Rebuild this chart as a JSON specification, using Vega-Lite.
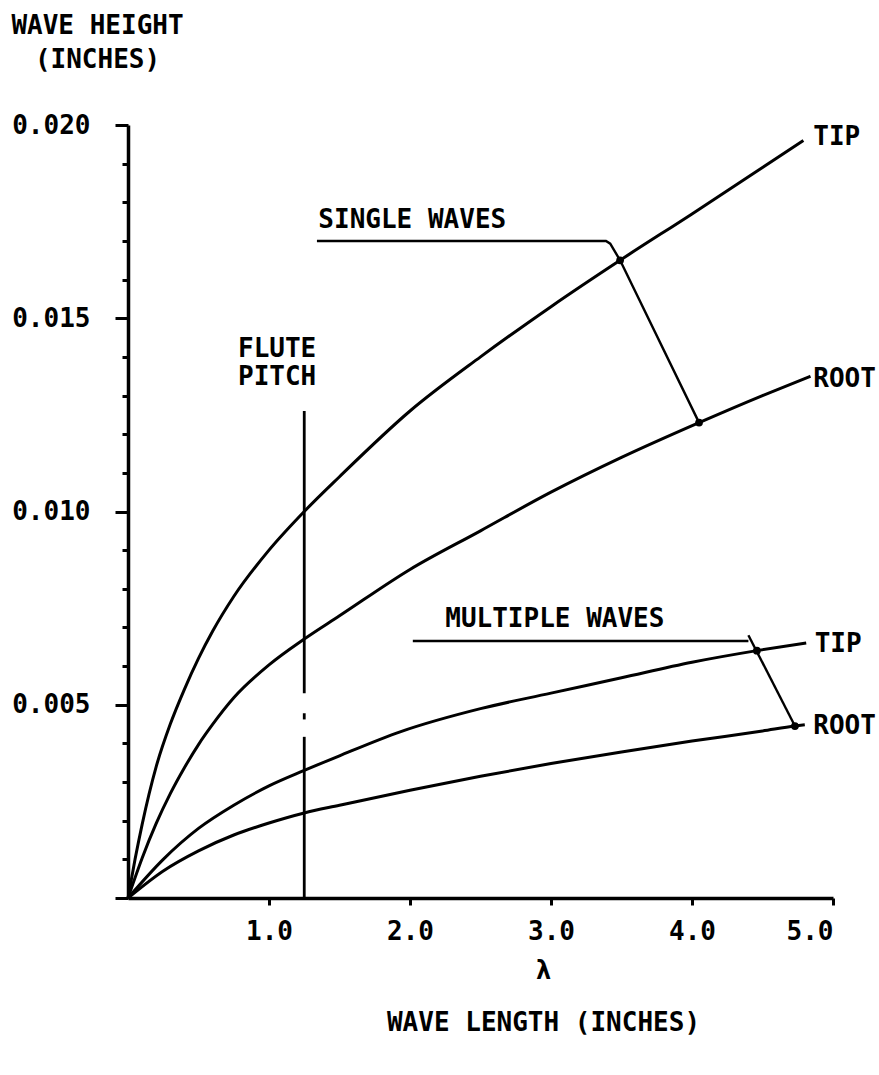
{
  "$schema": "https://vega.github.io/schema/vega-lite/v6.json",
  "width": 705,
  "height": 773,
  "autosize": "none",
  "padding": {"left": 128, "top": 125, "right": 46, "bottom": 177},
  "background": "white",
  "config": {
    "view": {"stroke": null},
    "font": "DejaVu Sans Mono",
    "axis": {"grid": false, "domainColor": "black", "tickColor": "black", "labelColor": "black", "titleColor": "black"}
  },
  "datasets": {
    "curves": [
      {"series": "single tip", "wl": 0, "h": 0},
      {"series": "single tip", "wl": 0.05, "h": 0.001},
      {"series": "single tip", "wl": 0.1, "h": 0.0019},
      {"series": "single tip", "wl": 0.2, "h": 0.0034},
      {"series": "single tip", "wl": 0.3, "h": 0.0045},
      {"series": "single tip", "wl": 0.4, "h": 0.0054},
      {"series": "single tip", "wl": 0.5, "h": 0.0062},
      {"series": "single tip", "wl": 0.6, "h": 0.0069},
      {"series": "single tip", "wl": 0.75, "h": 0.0078},
      {"series": "single tip", "wl": 1.0, "h": 0.009},
      {"series": "single tip", "wl": 1.25, "h": 0.01},
      {"series": "single tip", "wl": 1.5, "h": 0.0109},
      {"series": "single tip", "wl": 2.0, "h": 0.0126},
      {"series": "single tip", "wl": 2.5, "h": 0.014},
      {"series": "single tip", "wl": 3.0, "h": 0.0153},
      {"series": "single tip", "wl": 3.49, "h": 0.0165},
      {"series": "single tip", "wl": 4.0, "h": 0.0177},
      {"series": "single tip", "wl": 4.5, "h": 0.0189},
      {"series": "single tip", "wl": 4.79, "h": 0.0196},
      {"series": "single root", "wl": 0, "h": 0},
      {"series": "single root", "wl": 0.1, "h": 0.00103},
      {"series": "single root", "wl": 0.2, "h": 0.00193},
      {"series": "single root", "wl": 0.3, "h": 0.0027},
      {"series": "single root", "wl": 0.4, "h": 0.00337},
      {"series": "single root", "wl": 0.5, "h": 0.00397},
      {"series": "single root", "wl": 0.6, "h": 0.00449},
      {"series": "single root", "wl": 0.75, "h": 0.00518},
      {"series": "single root", "wl": 1.0, "h": 0.00603},
      {"series": "single root", "wl": 1.25, "h": 0.0067},
      {"series": "single root", "wl": 1.5, "h": 0.0073},
      {"series": "single root", "wl": 2.0, "h": 0.0085},
      {"series": "single root", "wl": 2.5, "h": 0.0095},
      {"series": "single root", "wl": 3.0, "h": 0.0105},
      {"series": "single root", "wl": 3.5, "h": 0.0114},
      {"series": "single root", "wl": 4.05, "h": 0.0123},
      {"series": "single root", "wl": 4.5, "h": 0.013},
      {"series": "single root", "wl": 4.84, "h": 0.0135},
      {"series": "multiple tip", "wl": 0, "h": 0},
      {"series": "multiple tip", "wl": 0.25, "h": 0.001},
      {"series": "multiple tip", "wl": 0.5, "h": 0.0018},
      {"series": "multiple tip", "wl": 0.75, "h": 0.0024},
      {"series": "multiple tip", "wl": 1.0, "h": 0.0029},
      {"series": "multiple tip", "wl": 1.25, "h": 0.0033},
      {"series": "multiple tip", "wl": 1.5, "h": 0.00368},
      {"series": "multiple tip", "wl": 1.93, "h": 0.0043},
      {"series": "multiple tip", "wl": 2.5, "h": 0.0049},
      {"series": "multiple tip", "wl": 3.0, "h": 0.0053},
      {"series": "multiple tip", "wl": 3.5, "h": 0.0057},
      {"series": "multiple tip", "wl": 4.0, "h": 0.0061},
      {"series": "multiple tip", "wl": 4.46, "h": 0.0064},
      {"series": "multiple tip", "wl": 4.81, "h": 0.0066},
      {"series": "multiple root", "wl": 0, "h": 0},
      {"series": "multiple root", "wl": 0.25, "h": 0.0007},
      {"series": "multiple root", "wl": 0.5, "h": 0.00122},
      {"series": "multiple root", "wl": 0.75, "h": 0.00163},
      {"series": "multiple root", "wl": 1.0, "h": 0.00194},
      {"series": "multiple root", "wl": 1.25, "h": 0.0022},
      {"series": "multiple root", "wl": 1.5, "h": 0.0024},
      {"series": "multiple root", "wl": 2.0, "h": 0.00279},
      {"series": "multiple root", "wl": 2.5, "h": 0.00315},
      {"series": "multiple root", "wl": 3.0, "h": 0.00348},
      {"series": "multiple root", "wl": 3.5, "h": 0.00378},
      {"series": "multiple root", "wl": 4.0, "h": 0.00406},
      {"series": "multiple root", "wl": 4.5, "h": 0.00432},
      {"series": "multiple root", "wl": 4.73, "h": 0.00445},
      {"series": "multiple root", "wl": 4.8, "h": 0.00448}
    ],
    "flute": [
      {"wl": 1.25, "top": 0.0126, "bottom": 0.0053},
      {"wl": 1.25, "top": 0.00478, "bottom": 0.00462},
      {"wl": 1.25, "top": 0.00417, "bottom": 0}
    ],
    "leaders": [
      {"leader": "single", "seq": 1, "wl": 1.34, "h": 0.017},
      {"leader": "single", "seq": 2, "wl": 3.39, "h": 0.017},
      {"leader": "single", "seq": 3, "wl": 3.42, "h": 0.01693},
      {"leader": "single", "seq": 4, "wl": 3.49, "h": 0.0165},
      {"leader": "single", "seq": 5, "wl": 4.05, "h": 0.0123},
      {"leader": "multiple", "seq": 1, "wl": 2.02, "h": 0.00665},
      {"leader": "multiple", "seq": 2, "wl": 4.4, "h": 0.00665},
      {"leader": "multiple link", "seq": 1, "wl": 4.4, "h": 0.0068},
      {"leader": "multiple link", "seq": 2, "wl": 4.73, "h": 0.00445}
    ],
    "dots": [
      {"wl": 3.49, "h": 0.0165},
      {"wl": 4.05, "h": 0.0123},
      {"wl": 4.46, "h": 0.0064},
      {"wl": 4.73, "h": 0.00445}
    ],
    "labels": [
      {"wl": 1.35, "h": 0.01733, "text": "SINGLE WAVES"},
      {"wl": 0.78, "h": 0.014, "text": "FLUTE"},
      {"wl": 0.78, "h": 0.01327, "text": "PITCH"},
      {"wl": 2.25, "h": 0.007, "text": "MULTIPLE WAVES"},
      {"wl": 4.86, "h": 0.01948, "text": "TIP"},
      {"wl": 4.86, "h": 0.01322, "text": "ROOT"},
      {"wl": 4.87, "h": 0.00636, "text": "TIP"},
      {"wl": 4.86, "h": 0.00424, "text": "ROOT"}
    ]
  },
  "layer": [
    {
      "data": {"name": "curves"},
      "mark": {"type": "line", "interpolate": "monotone", "color": "black", "strokeWidth": 3},
      "encoding": {
        "x": {
          "field": "wl", "type": "quantitative",
          "scale": {"domain": [0, 5], "nice": false, "zero": false},
          "axis": {
            "values": [1, 2, 3, 4, 5],
            "format": ".1f",
            "domainWidth": 3.5,
            "tickSize": 7,
            "tickWidth": 3,
            "labelFontSize": 26,
            "labelFont": "DejaVu Sans Mono",
            "labelFontWeight": "bold",
            "labelPadding": 13,
            "labelOverlap": false,
            "title": ["λ", "WAVE LENGTH (INCHES)"],
            "titleFont": "DejaVu Sans Mono",
            "titleFontSize": 26,
            "titleFontWeight": "bold",
            "titleLineHeight": 52,
            "titleAnchor": "start",
            "titleAlign": "center",
            "titleBaseline": "alphabetic",
            "titleX": 415,
            "titleY": 80
          }
        },
        "y": {
          "field": "h", "type": "quantitative",
          "scale": {"domain": [0, 0.02], "nice": false, "zero": false},
          "axis": {
            "values": [0, 0.001, 0.002, 0.003, 0.004, 0.005, 0.006, 0.007, 0.008, 0.009, 0.01, 0.011, 0.012, 0.013, 0.014, 0.015, 0.016, 0.017, 0.018, 0.019, 0.02],
            "tickCount": 40,
            "labelExpr": "(round(datum.value * 1000) % 5 === 0 && datum.value > 0) ? format(datum.value, '.3f') : ''",
            "labelOverlap": false,
            "domainWidth": 3.5,
            "tickSize": {"condition": {"test": "round(datum.value * 1000) % 5 === 0", "value": 13}, "value": 6},
            "tickWidth": 3,
            "labelFontSize": 26,
            "labelFont": "DejaVu Sans Mono",
            "labelFontWeight": "bold",
            "labelPadding": 25,
            "title": ["WAVE HEIGHT", "(INCHES)"],
            "titleFont": "DejaVu Sans Mono",
            "titleFontSize": 26,
            "titleFontWeight": "bold",
            "titleAngle": 0,
            "titleAnchor": "start",
            "titleAlign": "center",
            "titleBaseline": "alphabetic",
            "titleLineHeight": 34,
            "titleX": -31,
            "titleY": -92
          }
        },
        "detail": {"field": "series", "type": "nominal"}
      }
    },
    {
      "data": {"name": "flute"},
      "mark": {"type": "rule", "color": "black", "strokeWidth": 2.8},
      "encoding": {
        "x": {"field": "wl", "type": "quantitative"},
        "y": {"field": "top", "type": "quantitative"},
        "y2": {"field": "bottom"}
      }
    },
    {
      "data": {"name": "leaders"},
      "mark": {"type": "line", "color": "black", "strokeWidth": 2.4},
      "encoding": {
        "x": {"field": "wl", "type": "quantitative"},
        "y": {"field": "h", "type": "quantitative"},
        "detail": {"field": "leader", "type": "nominal"},
        "order": {"field": "seq", "type": "quantitative"}
      }
    },
    {
      "data": {"name": "dots"},
      "mark": {"type": "point", "filled": true, "color": "black", "size": 60, "opacity": 1},
      "encoding": {
        "x": {"field": "wl", "type": "quantitative"},
        "y": {"field": "h", "type": "quantitative"}
      }
    },
    {
      "data": {"name": "labels"},
      "mark": {"type": "text", "align": "left", "baseline": "alphabetic", "font": "DejaVu Sans Mono", "fontSize": 26, "fontWeight": "bold", "color": "black"},
      "encoding": {
        "x": {"field": "wl", "type": "quantitative"},
        "y": {"field": "h", "type": "quantitative"},
        "text": {"field": "text"}
      }
    }
  ]
}
